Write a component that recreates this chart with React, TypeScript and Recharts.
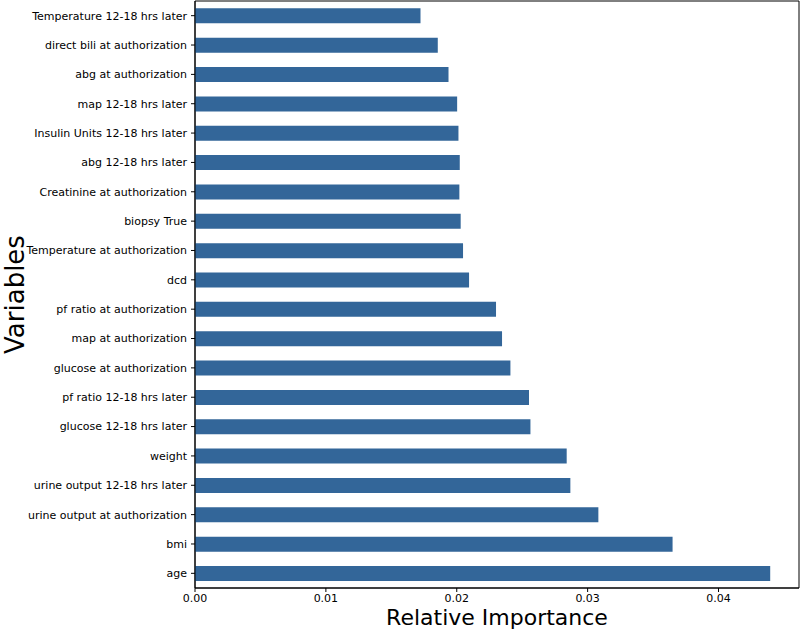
import { BarChart, Bar, XAxis, YAxis, ReferenceArea } from "recharts";

const variables = [
  "Temperature 12-18 hrs later",
  "direct bili at authorization",
  "abg at authorization",
  "map 12-18 hrs later",
  "Insulin Units 12-18 hrs later",
  "abg 12-18 hrs later",
  "Creatinine at authorization",
  "biopsy True",
  "Temperature at authorization",
  "dcd",
  "pf ratio at authorization",
  "map at authorization",
  "glucose at authorization",
  "pf ratio 12-18 hrs later",
  "glucose 12-18 hrs later",
  "weight",
  "urine output 12-18 hrs later",
  "urine output at authorization",
  "bmi",
  "age",
];

const importance = [
  0.01723, 0.01855, 0.01937, 0.02003, 0.02013, 0.02023, 0.0202, 0.0203, 0.02048, 0.02094,
  0.0230, 0.02346, 0.0241, 0.02552, 0.02563, 0.0284, 0.02868, 0.03082, 0.03649, 0.04395,
];

const xTicks = [0, 0.01, 0.02, 0.03, 0.04];
const XMAX = 0.04615;

const data = variables.map((name, i) => ({ name, value: importance[i] }));

const font = "DejaVu Sans, sans-serif";

const App = () => {
  return (
    <div style={{ position: "absolute", left: 0, top: 0, fontFamily: font }}>
      <BarChart
        width={800}
        height={632}
        data={data}
        layout="vertical"
        margin={{ top: 1, right: 1, left: 0, bottom: 0 }}
        barCategoryGap="25%"
      >
        <XAxis
          type="number"
          domain={[0, XMAX]}
          ticks={xTicks}
          tickFormatter={(v: number) => v.toFixed(2)}
          height={44}
          tickSize={4}
          tickMargin={2}
          axisLine={{ stroke: "#000" }}
          tickLine={{ stroke: "#000" }}
          tick={{ fill: "#000", fontSize: 11, fontFamily: font }}
          allowDataOverflow
          label={{
            value: "Relative Importance",
            position: "insideBottom",
            offset: 7,
            fill: "#000",
            fontSize: 22,
            fontFamily: font,
          }}
        />
        <YAxis
          type="category"
          dataKey="name"
          width={195}
          interval={0}
          tickSize={4}
          tickMargin={4}
          axisLine={{ stroke: "#000" }}
          tickLine={{ stroke: "#000" }}
          tick={{ fill: "#000", fontSize: 11, fontFamily: font }}
          label={{
            value: "Variables",
            angle: -90,
            position: "insideLeft",
            offset: 15,
            fill: "#000",
            fontSize: 26,
            fontFamily: font,
            style: { textAnchor: "middle" },
          }}
        />
        <Bar dataKey="value" fill="#336699" isAnimationActive={false} />
        <ReferenceArea x1={0} x2={XMAX} fill="none" stroke="#000" strokeWidth={1} />
      </BarChart>
    </div>
  );
};

export default App;
